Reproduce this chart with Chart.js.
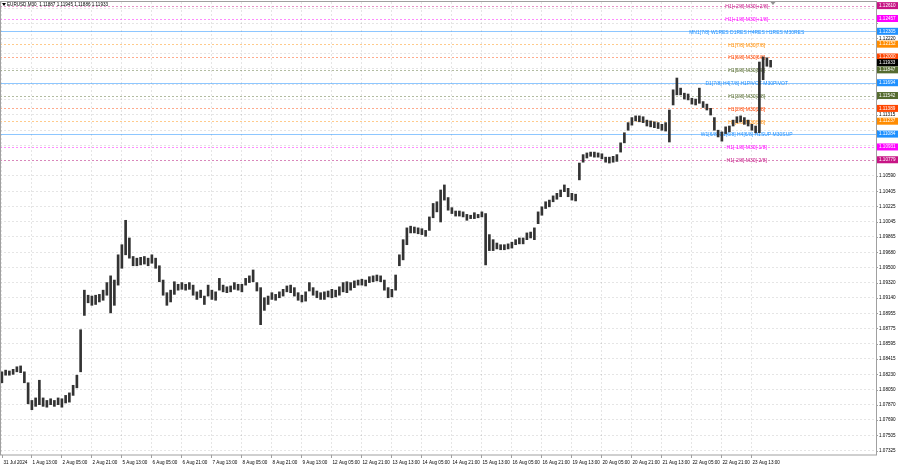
<!DOCTYPE html>
<html>
<head>
<meta charset="utf-8">
<script src="https://cdn.jsdelivr.net/npm/chart.js@4.4.1/dist/chart.umd.min.js"></script>
<style>
  html, body { margin: 0; padding: 0; background: #fff; }
  #wrap { width: 900px; height: 468px; }
</style>
</head>
<body>
<div id="wrap"><canvas id="eurusdChart" width="900" height="468"></canvas></div>
<script>
// EURUSD M30, each entry = one 2-hour block (4 bars), high / low
const barHigh = [
  1.0826, 1.0828, 1.0827, 1.0829, 1.0832, 1.0833, 1.0826, 1.0813, 1.0792, 1.0795,
  1.0816, 1.0795, 1.0792, 1.0794, 1.0792, 1.0795, 1.0794, 1.0798, 1.0801, 1.0810,
  1.0822, 1.0876, 1.0923, 1.0917, 1.0916, 1.0917, 1.0918, 1.0923, 1.0932, 1.0940,
  1.0935, 1.0965, 1.0977, 1.1006, 1.0985, 1.0963, 1.0961, 1.0962, 1.0963, 1.0961,
  1.0965, 1.0961, 1.0952, 1.0935, 1.0920, 1.0923, 1.0933, 1.0930, 1.0932, 1.0930,
  1.0932, 1.0929, 1.0921, 1.0923, 1.0916, 1.0929, 1.0923, 1.0921, 1.0937, 1.0929,
  1.0927, 1.0928, 1.0932, 1.0930, 1.0930, 1.0937, 1.0940, 1.0947, 1.0932, 1.0926,
  1.0914, 1.0916, 1.0920, 1.0918, 1.0921, 1.0924, 1.0928, 1.0929, 1.0926, 1.0920,
  1.0917, 1.0921, 1.0932, 1.0926, 1.0922, 1.0920, 1.0921, 1.0922, 1.0924, 1.0923,
  1.0927, 1.0932, 1.0933, 1.0932, 1.0934, 1.0935, 1.0936, 1.0935, 1.0939, 1.0940,
  1.0941, 1.0940, 1.0935, 1.0926, 1.0924, 1.0941, 1.0965, 1.0983, 1.0997, 1.0999,
  1.0998, 1.0997, 1.0996, 1.0994, 1.1010, 1.1026, 1.1028, 1.1042, 1.1048, 1.1033,
  1.1021, 1.1017, 1.1017, 1.1016, 1.1013, 1.1012, 1.1015, 1.1013, 1.1016, 1.1014,
  1.0989, 1.0983, 1.0979, 1.0977, 1.0977, 1.0978, 1.0980, 1.0983, 1.0985, 1.0985,
  1.0991, 1.0992, 1.0997, 1.1016, 1.1022, 1.1028, 1.1030, 1.1035, 1.1038, 1.1042,
  1.1048, 1.1044, 1.1038, 1.1037, 1.1074, 1.1084, 1.1086, 1.1087, 1.1087, 1.1086,
  1.1085, 1.1081, 1.1081, 1.1082, 1.1084, 1.1098, 1.1110, 1.1122, 1.1128, 1.1130,
  1.1130, 1.1129, 1.1125, 1.1124, 1.1123, 1.1122, 1.1120, 1.1122, 1.1137, 1.1161,
  1.1175, 1.1163, 1.1157, 1.1156, 1.1151, 1.1150, 1.1163, 1.1147, 1.1144, 1.1139,
  1.1128, 1.1113, 1.1111, 1.1117, 1.1118, 1.1125, 1.1129, 1.1130, 1.1128, 1.1125,
  1.1120, 1.1118, 1.1194, 1.1200, 1.1199, 1.1196
];
const barLow = [
  1.0813, 1.0822, 1.0822, 1.0823, 1.0826, 1.0825, 1.0813, 1.0788, 1.0781, 1.0785,
  1.0787, 1.0785, 1.0784, 1.0787, 1.0785, 1.0787, 1.0784, 1.0789, 1.0790, 1.0798,
  1.0807, 1.0826, 1.0893, 1.0908, 1.0905, 1.0906, 1.0909, 1.0911, 1.0917, 1.0896,
  1.0905, 1.0929, 1.0949, 1.0965, 1.0961, 1.0952, 1.0952, 1.0953, 1.0954, 1.0952,
  1.0955, 1.0949, 1.0933, 1.0917, 1.0905, 1.0909, 1.0918, 1.0923, 1.0924, 1.0923,
  1.0924, 1.0917, 1.0912, 1.0914, 1.0906, 1.0916, 1.0912, 1.0911, 1.0923, 1.0921,
  1.0920, 1.0921, 1.0924, 1.0923, 1.0921, 1.0929, 1.0932, 1.0933, 1.0922, 1.0882,
  1.0899, 1.0906, 1.0912, 1.0911, 1.0914, 1.0916, 1.0921, 1.0920, 1.0916, 1.0911,
  1.0909, 1.0910, 1.0922, 1.0917, 1.0914, 1.0912, 1.0912, 1.0915, 1.0914, 1.0915,
  1.0917, 1.0921, 1.0920, 1.0923, 1.0926, 1.0929, 1.0929, 1.0928, 1.0932, 1.0933,
  1.0934, 1.0933, 1.0923, 1.0914, 1.0915, 1.0923, 1.0952, 1.0959, 1.0977, 1.0991,
  1.0991, 1.0990, 1.0989, 1.0987, 1.0994, 1.1009, 1.1016, 1.1004, 1.1030, 1.1018,
  1.1014, 1.1011, 1.1011, 1.1010, 1.1006, 1.1008, 1.1008, 1.1009, 1.1010, 1.0953,
  1.0970, 1.0970, 1.0972, 1.0971, 1.0971, 1.0972, 1.0973, 1.0977, 1.0978, 1.0978,
  1.0983, 1.0985, 1.0983, 1.1002, 1.1012, 1.1020, 1.1022, 1.1028, 1.1031, 1.1034,
  1.1040, 1.1034, 1.1030, 1.1029, 1.1054, 1.1075, 1.1080, 1.1082, 1.1081, 1.1081,
  1.1079, 1.1075, 1.1074, 1.1075, 1.1076, 1.1087, 1.1098, 1.1113, 1.1119, 1.1124,
  1.1123, 1.1122, 1.1118, 1.1117, 1.1116, 1.1115, 1.1113, 1.1112, 1.1099, 1.1143,
  1.1155, 1.1155, 1.1150, 1.1149, 1.1144, 1.1143, 1.1145, 1.1140, 1.1137, 1.1131,
  1.1113, 1.1105, 1.1100, 1.1109, 1.1111, 1.1118, 1.1122, 1.1123, 1.1120, 1.1118,
  1.1113, 1.1110, 1.1110, 1.1173, 1.1189, 1.1188
];
const barsPerBlock = 4;

// time axis: first label at the first bar, then one every 32 M30 bars
const timeLabels = [
  '31 Jul 2024', '1 Aug 13:00', '2 Aug 05:00', '2 Aug 21:00', '5 Aug 13:00', '6 Aug 05:00',
  '6 Aug 21:00', '7 Aug 13:00', '8 Aug 05:00', '8 Aug 21:00', '9 Aug 13:00', '12 Aug 05:00',
  '12 Aug 21:00', '13 Aug 13:00', '14 Aug 05:00', '14 Aug 21:00', '15 Aug 13:00', '16 Aug 05:00',
  '16 Aug 21:00', '19 Aug 13:00', '20 Aug 05:00', '20 Aug 21:00', '21 Aug 13:00', '22 Aug 05:00',
  '22 Aug 21:00', '23 Aug 13:00'
];
const timeLabelBars = [1.6, 33, 65, 97, 129, 161, 193, 225, 257, 289, 321, 353, 385, 417, 449,
  481, 513, 545, 577, 609, 641, 673, 705, 737, 769, 801];

const priceTicks = [
  1.12580, 1.12400, 1.12220, 1.12040, 1.11860, 1.11675, 1.11495, 1.11315, 1.11130, 1.10950,
  1.10770, 1.10590, 1.10405, 1.10225, 1.10045, 1.09865, 1.09680, 1.09500, 1.09320, 1.09140,
  1.08955, 1.08775, 1.08595, 1.08415, 1.08230, 1.08050, 1.07870, 1.07690, 1.07505, 1.07325
];

// Murrey levels drawn on the chart
const levelPrices = [1.12610, 1.12457, 1.12305, 1.12152, 1.12000, 1.11847, 1.11694,
  1.11542, 1.11389, 1.11237, 1.11084, 1.10931, 1.10779];
const levelNames = [
  'H1[+2/8] M30[+2/8]', 'H1[+1/8] M30[+1/8]', 'MN1[7/8] W1RES D1RES H4RES H1RES M30RES',
  'H1[7/8] M30[7/8]', 'H1[6/8] M30[6/8]', 'H1[5/8] M30[5/8]', 'D1[7/8] H4[7/8] H1PIVOT M30PIVOT',
  'H1[3/8] M30[3/8]', 'H1[2/8] M30[2/8]', 'H1[1/8] M30[1/8]', 'W1[6/8] D1[6/8] H4[6/8] H1SUP M30SUP',
  'H1[-1/8] M30[-1/8]', 'H1[-2/8] M30[-2/8]'
];
const levelColors = ['#c71585', '#ff00ff', '#1e90ff', '#ff8c00', '#ff4500', '#556b2f', '#1e90ff',
  '#556b2f', '#ff4500', '#ff8c00', '#1e90ff', '#ff00ff', '#c71585'];
const levelSolid = [false, false, true, false, false, false, true, false, false, false, true, false, false];
const levelTextBar = 796;

const lastPrice = 1.11933;
const headerText = 'EURUSD,M30  1.11887 1.11945 1.11886 1.11933';

const bars = barHigh.map((h, i) => ({ x: i * barsPerBlock + 1.5, y: [barLow[i], h] }));

const axisFont = '4.6px "Liberation Sans", Arial, sans-serif';
const levelFont = '5px "Liberation Sans", Arial, sans-serif';

const mtPlugin = {
  id: 'mtDecor',
  beforeDatasetsDraw(chart) {
    const { ctx, chartArea: a, scales: { x, y } } = chart;
    ctx.save();
    ctx.lineWidth = 1;
    levelPrices.forEach((p, i) => {
      const py = Math.round(y.getPixelForValue(p)) + 0.5;
      ctx.strokeStyle = levelColors[i];
      ctx.globalAlpha = levelSolid[i] ? 0.5 : 0.45;
      ctx.setLineDash(levelSolid[i] ? [] : [2, 2]);
      ctx.beginPath();
      ctx.moveTo(a.left, py);
      ctx.lineTo(a.right, py);
      ctx.stroke();
    });
    ctx.globalAlpha = 1;
    ctx.setLineDash([]);
    ctx.font = levelFont;
    ctx.textAlign = 'center';
    ctx.textBaseline = 'middle';
    levelPrices.forEach((p, i) => {
      ctx.fillStyle = levelColors[i];
      ctx.fillText(levelNames[i], x.getPixelForValue(levelTextBar), y.getPixelForValue(p) + 1);
    });
    ctx.restore();
  },
  afterDraw(chart) {
    const { ctx, chartArea: a, scales: { x, y } } = chart;
    ctx.save();
    // frame
    ctx.strokeStyle = '#a0a0a0';
    ctx.lineWidth = 1;
    ctx.strokeRect(a.left + 0.5, a.top - 0.5, a.right - a.left, a.bottom - a.top + 0.5);

    // price axis labels, hidden where a level box sits
    ctx.font = axisFont;
    ctx.textAlign = 'left';
    ctx.textBaseline = 'middle';
    priceTicks.forEach(v => {
      const py = y.getPixelForValue(v);
      const covered = levelPrices.concat([lastPrice]).some(p => Math.abs(y.getPixelForValue(p) - py) < 5);
      ctx.fillStyle = '#000';
      if (!covered) ctx.fillText(v.toFixed(5), a.right + 3, py);
      ctx.beginPath();
      ctx.moveTo(a.right, Math.round(py) + 0.5);
      ctx.lineTo(a.right + 2, Math.round(py) + 0.5);
      ctx.strokeStyle = '#a0a0a0';
      ctx.stroke();
    });
    // level price boxes
    const boxes = levelPrices.map((p, i) => [p, levelColors[i]]).concat([[lastPrice, '#000']]);
    boxes.forEach(([p, c]) => {
      const py = y.getPixelForValue(p);
      ctx.fillStyle = c;
      ctx.fillRect(a.right + 1, py - 3.5, 21, 7);
      ctx.fillStyle = '#fff';
      ctx.fillText(p.toFixed(5), a.right + 3, py);
    });

    // time axis labels
    ctx.fillStyle = '#000';
    ctx.textBaseline = 'middle';
    timeLabels.forEach((t, i) => {
      const px = Math.round(x.getPixelForValue(timeLabelBars[i])) + 0.5;
      ctx.strokeStyle = '#a0a0a0';
      ctx.beginPath();
      ctx.moveTo(px, a.bottom);
      ctx.lineTo(px, a.bottom + 3);
      ctx.stroke();
      ctx.fillText(t, px + 1, a.bottom + 8);
    });

    // header
    ctx.fillStyle = '#000';
    ctx.beginPath();
    ctx.moveTo(2, 3); ctx.lineTo(6, 3); ctx.lineTo(4, 6); ctx.closePath();
    ctx.fill();
    ctx.font = axisFont;
    ctx.fillText(headerText, 7, 5);

    // chart shift marker
    const sx = x.getPixelForValue(barHigh.length * barsPerBlock);
    ctx.fillStyle = '#909090';
    ctx.beginPath();
    ctx.moveTo(sx - 2.5, a.top); ctx.lineTo(sx + 2.5, a.top); ctx.lineTo(sx, a.top + 3); ctx.closePath();
    ctx.fill();
    ctx.restore();
  }
};

const ctx = document.getElementById('eurusdChart').getContext('2d');
new Chart(ctx, {
  type: 'bar',
  data: {
    datasets: [{
      data: bars,
      backgroundColor: '#333333',
      borderWidth: 0,
      barThickness: 2,
      grouped: false
    }]
  },
  options: {
    responsive: false,
    animation: false,
    devicePixelRatio: 1,
    events: [],
    layout: { padding: { top: 2, left: 0, right: 0, bottom: 0 } },
    plugins: { legend: { display: false }, tooltip: { enabled: false } },
    scales: {
      x: {
        type: 'linear',
        offset: false,
        min: -0.5,
        max: 933.9,
        afterBuildTicks: s => { s.ticks = timeLabelBars.map(v => ({ value: v })); },
        afterFit: s => { s.height = 13; },
        ticks: { display: false },
        grid: { color: 'rgba(0,0,0,0.1)', drawTicks: false, offset: false },
        border: { display: false, dash: [2, 2] }
      },
      y: {
        position: 'right',
        min: 1.07272,
        max: 1.12653,
        afterBuildTicks: s => { s.ticks = priceTicks.map(v => ({ value: v })); },
        afterFit: s => { s.width = 24; },
        ticks: { display: false },
        grid: { color: 'rgba(0,0,0,0.1)', drawTicks: false },
        border: { display: false, dash: [2, 2] }
      }
    }
  },
  plugins: [mtPlugin]
});
</script>
</body>
</html>
